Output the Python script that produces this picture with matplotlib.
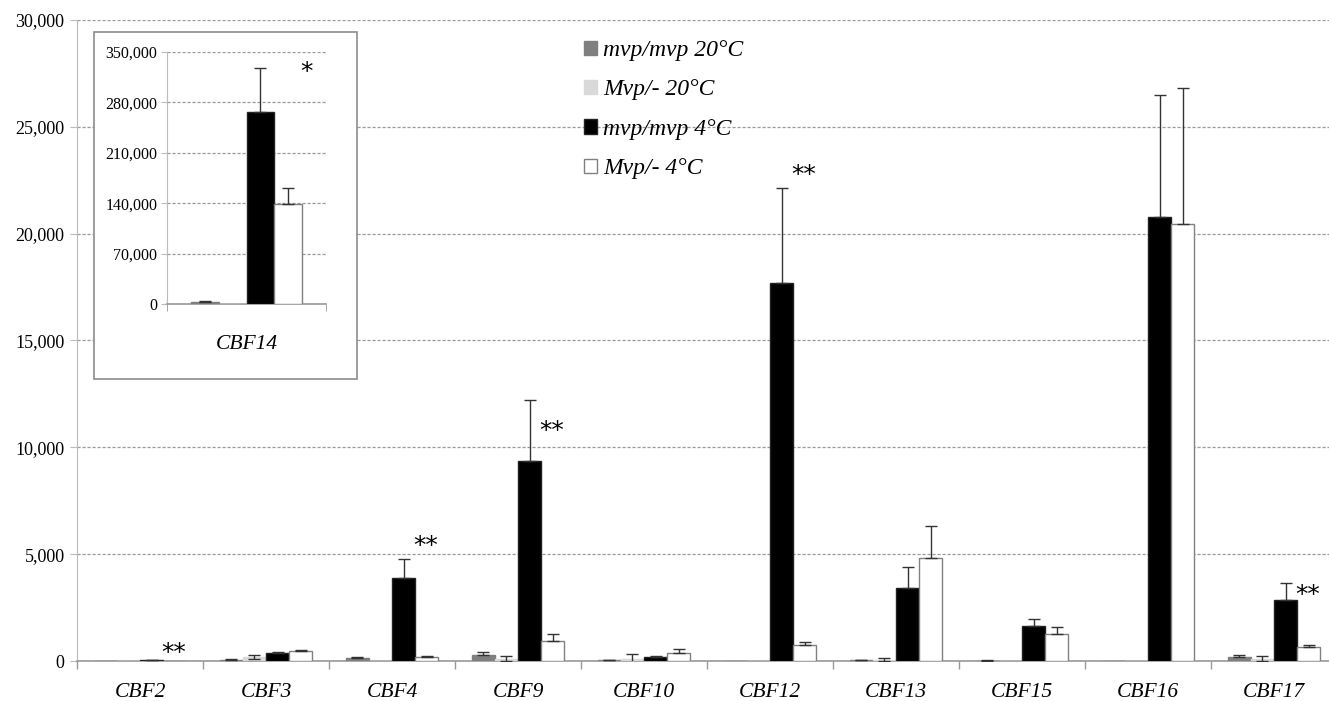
import matplotlib
matplotlib.use("Agg")
import matplotlib.pyplot as plt
from matplotlib.patches import Patch, Rectangle
from matplotlib.ticker import FuncFormatter
import numpy as np

# data
genes = ["CBF2", "CBF3", "CBF4", "CBF9", "CBF10", "CBF12", "CBF13", "CBF15", "CBF16", "CBF17"]
series = ["mvp/mvp 20°C", "Mvp/- 20°C", "mvp/mvp 4°C", "Mvp/- 4°C"]

mvp_20 = [5, 60, 130, 280, 30, 5, 30, 20, 5, 200]
mvp_20_err = [0, 30, 50, 120, 20, 0, 20, 10, 0, 80]
het_20 = [5, 180, 0, 100, 100, 0, 60, 0, 0, 110]
het_20_err = [0, 80, 0, 120, 250, 0, 80, 0, 0, 130]
mvp_4 = [30, 360, 3880, 9360, 200, 17700, 3420, 1640, 20780, 2850]
mvp_4_err = [10, 80, 890, 2850, 50, 4430, 980, 310, 5720, 800]
het_4 = [5, 470, 200, 950, 380, 750, 4820, 1260, 20450, 650]
het_4_err = [0, 60, 50, 310, 200, 120, 1500, 340, 6350, 120]

sig_labels = ["**", "", "**", "**", "", "**", "", "", "", "**"]
sig_height = [370, 0, 5380, 10760, 0, 22740, 0, 0, 0, 3090]

# inset: CBF14
inset_gene = "CBF14"
inset_vals = [2500, 0, 267000, 138500]
inset_err = [1000, 0, 61000, 22500]
inset_sig = "*"
inset_sig_height = 322000

colors = ["#7f7f7f", "#d9d9d9", "#000000", "#ffffff"]
edges = ["#7f7f7f", "#d9d9d9", "#222222", "#808080"]

serif = ["Liberation Serif", "DejaVu Serif"]
plt.rcParams["font.family"] = serif
err_style = dict(fmt="none", ecolor="#333333", elinewidth=1.0, capsize=4, capthick=1.0, zorder=4)


def draw_bars(a, pos, v, e, i, width):
    v = np.asarray(v, dtype=float)
    e = np.asarray(e, dtype=float)
    a.bar(pos, v, width, color=colors[i], edgecolor=edges[i], linewidth=1.0, zorder=3)
    keep = e > 0
    if keep.any():
        lower = e[keep] if i == 1 else np.zeros(keep.sum())
        a.errorbar(pos[keep], v[keep], yerr=[lower, e[keep]], **err_style)


def fmt_thousands(v, p):
    return "{:,.0f}".format(v)


fig = plt.figure(figsize=(13.29, 7.01), dpi=100)
ax = fig.add_axes([77 / 1329, 40 / 701, 1260 / 1329, 641 / 701])

x = np.arange(len(genes))
w = 0.183
vals = [mvp_20, het_20, mvp_4, het_4]
errs = [mvp_20_err, het_20_err, mvp_4_err, het_4_err]
for i in range(4):
    draw_bars(ax, x + (i - 1.5) * w, vals[i], errs[i], i, w)

for i, lab in enumerate(sig_labels):
    if lab:
        ax.text(x[i] + 0.27, sig_height[i], lab, ha="center", va="center",
                fontsize=18, fontfamily="DejaVu Sans", zorder=5)

ax.set_xlim(-0.5, len(genes) - 0.5)
ax.set_ylim(0, 30000)
ax.set_yticks(np.arange(0, 30001, 5000))
ax.yaxis.set_major_formatter(FuncFormatter(fmt_thousands))
ax.grid(axis="y", color="#9a9a9a", linestyle=(0, (2.5, 1.5)), linewidth=0.9, zorder=0)
ax.set_axisbelow(True)
ax.set_xticks(x)
ax.set_xticklabels(genes, fontsize=15.5, style="italic")
ax.set_xticks(np.arange(-0.5, len(genes), 1), minor=True)
ax.tick_params(axis="x", which="major", length=0, pad=16)
ax.tick_params(axis="x", which="minor", length=6, color="#999999", width=1)
ax.tick_params(axis="y", labelsize=13, length=5, color="#bbbbbb", pad=4)
for s in ["top", "right"]:
    ax.spines[s].set_visible(False)
ax.spines["left"].set_color("#bbbbbb")
ax.spines["bottom"].set_color("#999999")
ax.spines["bottom"].set_linewidth(1.2)

handles = [Patch(facecolor=colors[i], edgecolor=edges[i] if i != 1 else colors[i]) for i in range(4)]
fig.legend(handles, series, loc="upper left", bbox_to_anchor=(584 / 1329, 1 - 40 / 701),
           frameon=False, prop=dict(family=serif, style="italic", size=17),
           handlelength=0.55, handleheight=0.55, handletextpad=0.25, labelspacing=0.78,
           borderpad=0, borderaxespad=0)

# inset box and axes
fig.patches.append(Rectangle((94 / 1329, 1 - 379 / 701), 263 / 1329, 347 / 701,
                             transform=fig.transFigure, facecolor="white",
                             edgecolor="#8c8c8c", linewidth=1.2, zorder=1))
ins = fig.add_axes([167 / 1329, 1 - 304 / 701, 159 / 1329, 252 / 701])
ins.set_zorder(2)
wi = 0.175
for i in range(4):
    draw_bars(ins, np.array([(i - 1.5) * wi]), [inset_vals[i]], [inset_err[i]], i, wi)
ins.text(0.375, inset_sig_height, inset_sig, ha="center", va="center", fontsize=18,
         fontfamily="DejaVu Sans")
ins.set_xlim(-0.5, 0.5)
ins.set_ylim(0, 350000)
ins.set_yticks(np.arange(0, 350001, 70000))
ins.yaxis.set_major_formatter(FuncFormatter(fmt_thousands))
ins.grid(axis="y", color="#9a9a9a", linestyle=(0, (2.5, 1.5)), linewidth=0.9, zorder=0)
ins.set_axisbelow(True)
ins.set_xticks([0])
ins.set_xticklabels([inset_gene], fontsize=15.5, style="italic")
ins.set_xticks([-0.5, 0.5], minor=True)
ins.tick_params(axis="x", which="major", length=0, pad=22)
ins.tick_params(axis="x", which="minor", length=5, color="#999999")
ins.tick_params(axis="y", labelsize=11.5, length=4, color="#bbbbbb", pad=3)
for s in ["top", "right"]:
    ins.spines[s].set_visible(False)
ins.spines["left"].set_color("#bbbbbb")
ins.spines["bottom"].set_color("#999999")
ins.spines["bottom"].set_linewidth(1.2)
ins.patch.set_alpha(0)

fig.savefig("out.png", dpi=100)
